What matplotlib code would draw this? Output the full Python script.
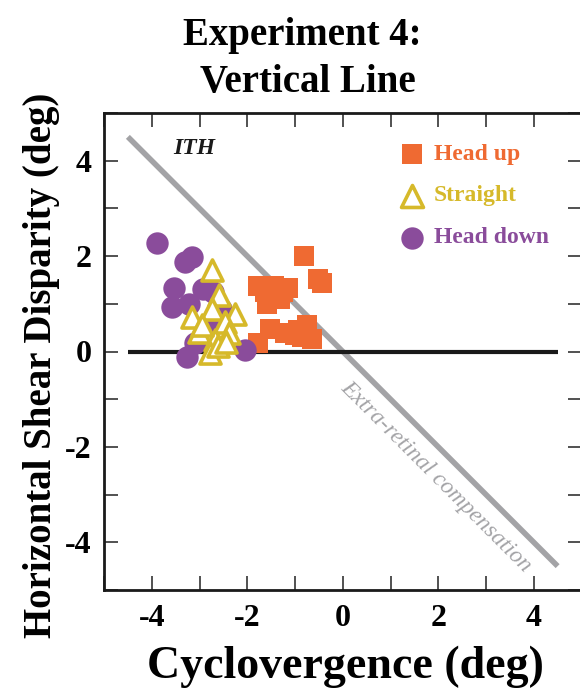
import matplotlib
matplotlib.use("Agg")
import matplotlib.pyplot as plt
import numpy as np

# Data
head_up_x = [-0.81, -0.52, -0.44, -1.77, -1.45, -1.14, -1.59, -1.31, -1.62, -1.25,
             -1.77, -1.52, -1.21, -0.93, -0.75, -0.65, -1.0, -0.85]
head_up_y = [2.01, 1.52, 1.43, 1.37, 1.37, 1.34, 1.00, 1.11, 1.25, 1.25,
             0.17, 0.48, 0.38, 0.45, 0.55, 0.27, 0.35, 0.30]

straight_x = [-2.74, -2.60, -2.74, -2.25, -3.16, -2.46, -3.02, -2.39, -2.67, -2.78, -2.62, -2.44, -2.95]
straight_y = [1.70, 1.18, 0.90, 0.79, 0.72, 0.62, 0.41, 0.38, 0.24, -0.04, 0.12, 0.20, 0.55]

head_down_x = [-3.89, -3.30, -3.16, -3.53, -3.58, -2.92, -2.71, -3.23, -2.46, -3.26, -3.09, -2.04, -2.8, -2.55]
head_down_y = [2.27, 1.87, 1.98, 1.34, 0.93, 1.32, 1.25, 1.00, 0.69, -0.11, 0.17, 0.03, 0.55, 0.9]

line_ext = [-4.5, 4.5]
xticks = [-4, -2, 0, 2, 4]
yticks = [-4, -2, 0, 2, 4]

orange = "#EF6A32"
yellow = "#D6B92A"
purple = "#8A4C9B"
gray = "#A3A3A6"

serif = ["Liberation Serif", "DejaVu Serif"]
plt.rcParams["font.family"] = serif

fig = plt.figure(figsize=(5.8, 6.89), dpi=100)
ax = fig.add_axes([104/580, (689-590)/689, (581.5-104)/580, (590-113)/689])

ax.plot(line_ext, [-v for v in line_ext], color=gray, lw=4, solid_capstyle="butt", zorder=1)
ax.plot(line_ext, [0, 0], color="#1a1a1a", lw=3, solid_capstyle="butt", zorder=1)

ax.scatter(head_up_x, head_up_y, marker="s", s=220, color=orange, linewidths=0, zorder=2)
ax.scatter(head_down_x, head_down_y, marker="o", s=260, color=purple, linewidths=0, zorder=3)
ax.scatter(straight_x, straight_y, marker="^", s=230, facecolor="white", edgecolor=yellow, linewidths=2.6, zorder=4)

# legend (manual)
lx = 1.44
ax.scatter([lx], [4.14], marker="s", s=220, color=orange, linewidths=0)
ax.scatter([lx], [3.27], marker="^", s=250, facecolor="white", edgecolor=yellow, linewidths=2.6)
ax.scatter([lx], [2.38], marker="o", s=260, color=purple, linewidths=0)
tx = 1.91
ax.text(tx, 4.14, "Head up", color=orange, fontsize=17, fontweight="bold", va="center", ha="left")
ax.text(tx, 3.27, "Straight", color=yellow, fontsize=17, fontweight="bold", va="center", ha="left")
ax.text(tx, 2.38, "Head down", color=purple, fontsize=17, fontweight="bold", va="center", ha="left")

ax.text(-3.12, 4.25, "ITH", fontsize=17, fontweight="bold", style="italic", ha="center", va="center", color="#1a1a1a")
ax.text(1.96, -2.62, "Extra-retinal compensation", fontsize=17, style="italic", color=gray,
        rotation=-45, rotation_mode="anchor", ha="center", va="center")

ax.set_xlim(-5, 5)
ax.set_ylim(-5, 5)
ax.set_xticks(np.arange(-5, 6, 1))
ax.set_xticklabels(["" if v not in xticks else str(v) for v in range(-5, 6)])
ax.set_yticks(np.arange(-5, 6, 1))
ax.set_yticklabels(["" if v not in yticks else str(v) for v in range(-5, 6)])
ax.tick_params(direction="in", length=10, width=1.2, top=True, right=True, labelsize=23, color="#333333")
ax.tick_params(axis="x", pad=10)
ax.tick_params(axis="y", pad=9)
for lab in ax.get_xticklabels() + ax.get_yticklabels():
    lab.set_fontweight("bold")
for sp in ax.spines.values():
    sp.set_linewidth(2)
    sp.set_color("#1a1a1a")

ax.set_xlabel("Cyclovergence (deg)", fontsize=33, fontweight="bold")
ax.xaxis.set_label_coords(0.505, -0.117)
ax.set_ylabel("Horizontal Shear Disparity (deg)", fontsize=28, fontweight="bold")
ax.yaxis.set_label_coords(-0.092, 0.47)
fig.text(302/580, 1 - 45/689, "Experiment 4:", ha="center", va="baseline", fontsize=28, fontweight="bold")
fig.text(308/580, 1 - 92/689, "Vertical Line", ha="center", va="baseline", fontsize=28, fontweight="bold")

fig.savefig("out.png", dpi=100)
